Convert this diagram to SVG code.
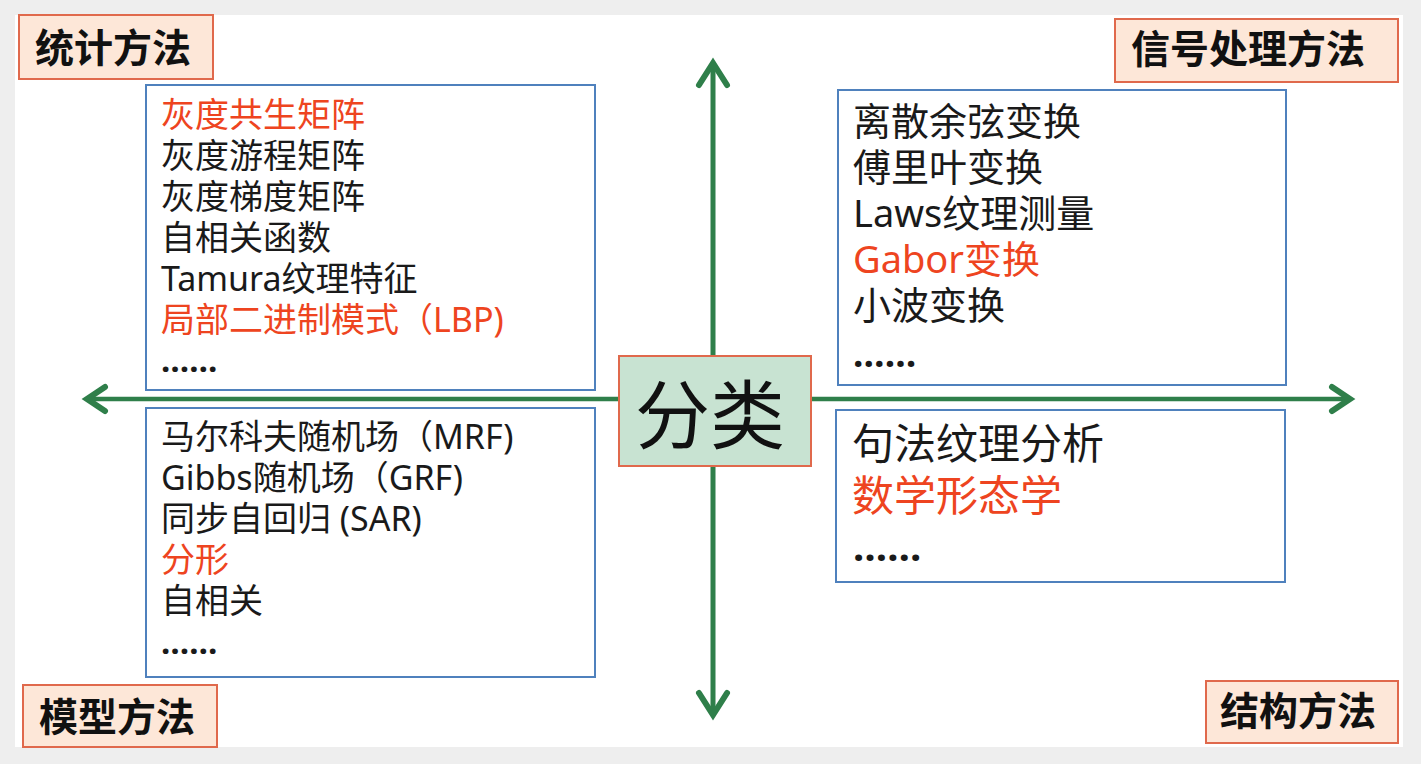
<svg xmlns="http://www.w3.org/2000/svg" width="1421" height="764" viewBox="0 0 1421 764">
  <defs>
    <style>
      .txt { font-family: "Noto Sans", "Noto Sans CJK SC", sans-serif; fill: #1a1a1a; }
      .red { fill: #ee4420; }
      .label-box { fill: #fde7d8; stroke: #e0694c; stroke-width: 2; }
      .label { font-family: "Noto Sans CJK SC", sans-serif; font-weight: bold; font-size: 39px; fill: #111; }
      .panel { fill: #ffffff; stroke: #4f81bd; stroke-width: 2; }
      .axis { stroke: #2f7f4a; stroke-width: 5; fill: none; stroke-linecap: butt; }
      .head { stroke: #2f7f4a; stroke-width: 6; fill: none; stroke-linecap: round; stroke-linejoin: miter; }
    </style>
  </defs>

  <!-- page -->
  <rect x="0" y="0" width="1421" height="764" fill="#eeeeee"/>
  <rect x="15" y="15" width="1388" height="732" fill="#ffffff"/>

  <!-- axes -->
  <g id="connectors">
    <line class="axis" x1="713" y1="64" x2="713" y2="714"/>
    <line class="axis" x1="88" y1="399" x2="1350" y2="399" style="stroke-width:4.5"/>
    <polyline class="head" points="699,85 713,63 727,85"/>
    <polyline class="head" points="699,693 713,715 727,693"/>
    <polyline class="head" points="105,387 87,399 105,411"/>
    <polyline class="head" points="1332,387 1350,399 1332,411"/>
  </g>

  <!-- quadrant labels -->
  <g id="label-statistics">
    <rect class="label-box" x="19" y="15" width="194" height="64"/>
    <text class="label" x="35" y="62">统计方法</text>
  </g>
  <g id="label-signal">
    <rect class="label-box" x="1115" y="19" width="283" height="63"/>
    <text class="label" x="1131" y="63">信号处理方法</text>
  </g>
  <g id="label-model">
    <rect class="label-box" x="23" y="685" width="194" height="62"/>
    <text class="label" x="39" y="731">模型方法</text>
  </g>
  <g id="label-structure">
    <rect class="label-box" x="1206" y="681" width="192" height="62"/>
    <text class="label" x="1220" y="725">结构方法</text>
  </g>

  <!-- statistical methods -->
  <g id="panel-statistics">
    <rect class="panel" x="146" y="85" width="449" height="305"/>
    <g class="txt" font-size="34">
      <text class="txt red" x="161" y="127">灰度共生矩阵</text>
      <text class="txt" x="161" y="168">灰度游程矩阵</text>
      <text class="txt" x="161" y="209">灰度梯度矩阵</text>
      <text class="txt" x="161" y="250">自相关函数</text>
      <text class="txt" x="161" y="291">Tamura纹理特征</text>
      <text class="txt red" x="161" y="332">局部二进制模式（LBP)</text>
      <text class="txt" x="161" y="372" font-size="33" font-weight="bold">……</text>
    </g>
  </g>

  <!-- model methods -->
  <g id="panel-model">
    <rect class="panel" x="146" y="408" width="449" height="269"/>
    <g class="txt" font-size="34">
      <text class="txt" x="161" y="449">马尔科夫随机场（MRF)</text>
      <text class="txt" x="161" y="490">Gibbs随机场（GRF)</text>
      <text class="txt" x="161" y="531">同步自回归 (SAR)</text>
      <text class="txt red" x="161" y="572">分形</text>
      <text class="txt" x="161" y="613">自相关</text>
      <text class="txt" x="161" y="654" font-size="33" font-weight="bold">……</text>
    </g>
  </g>

  <!-- signal processing methods -->
  <g id="panel-signal">
    <rect class="panel" x="838" y="90" width="448" height="295"/>
    <g class="txt" font-size="38">
      <text class="txt" x="853" y="135">离散余弦变换</text>
      <text class="txt" x="853" y="181">傅里叶变换</text>
      <text class="txt" x="853" y="227">Laws纹理测量</text>
      <text class="txt red" x="853" y="273">Gabor变换</text>
      <text class="txt" x="853" y="319">小波变换</text>
      <text class="txt" x="853" y="367" font-size="37" font-weight="bold">……</text>
    </g>
  </g>

  <!-- structural methods -->
  <g id="panel-structure">
    <rect class="panel" x="836" y="410" width="449" height="172"/>
    <g class="txt" font-size="42">
      <text class="txt" x="852" y="459">句法纹理分析</text>
      <text class="txt red" x="852" y="511">数学形态学</text>
      <text class="txt" x="853" y="561" font-size="40" font-weight="bold">……</text>
    </g>
  </g>

  <!-- centre -->
  <g id="node-classify">
    <rect x="619" y="356" width="192" height="110" fill="#c8e3d2" stroke="#e0694c" stroke-width="2"/>
    <text x="710" y="443" text-anchor="middle" font-family="Noto Sans CJK SC, sans-serif" font-size="75" fill="#111">分类</text>
  </g>
</svg>
